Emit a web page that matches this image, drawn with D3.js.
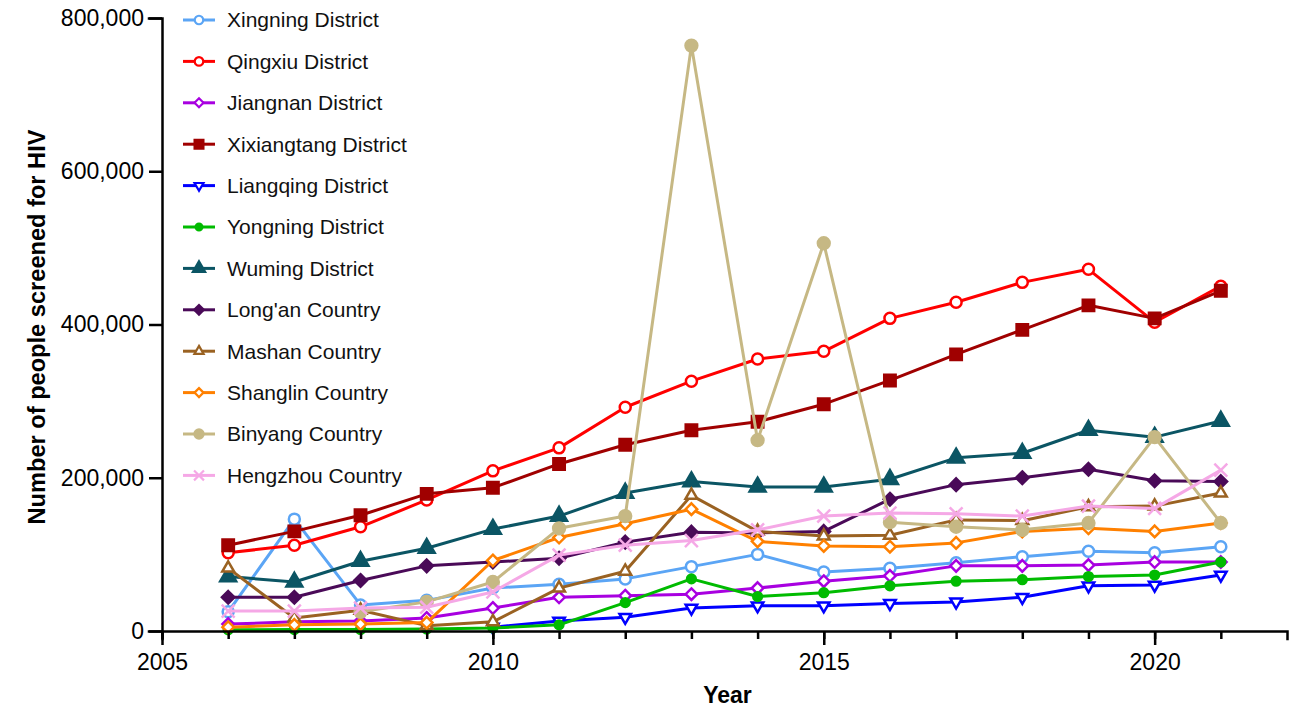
<!DOCTYPE html>
<html>
<head>
<meta charset="utf-8">
<script src="https://cdn.jsdelivr.net/npm/d3@7"></script>
<style>
  body { margin: 0; background: #fff; }
  text { font-family: Arial, "Liberation Sans", sans-serif; }
</style>
</head>
<body>
<div id="chart"></div>
<script>
// years on the x axis
var years = d3.range(2006, 2022);

// number of people screened
var xingning    = [25000, 146000, 34000, 40000, 56000, 61000, 68000, 84000, 100000, 77000, 82000, 89000, 97000, 104000, 102000, 110000];
var qingxiu     = [102000, 112000, 136000, 171000, 209000, 239000, 292000, 326000, 355000, 365000, 408000, 429000, 455000, 472000, 403000, 450000];
var jiangnan    = [9000, 12000, 13000, 17000, 30000, 44000, 46000, 48000, 56000, 65000, 72000, 85000, 85000, 86000, 90000, 90000];
var xixiangtang = [112000, 130000, 151000, 179000, 187000, 218000, 243000, 262000, 273000, 296000, 327000, 361000, 393000, 425000, 408000, 444000];
var liangqing   = [null, null, null, null, 5000, 13000, 18000, 30000, 33000, 33000, 36000, 38000, 44000, 59000, 60000, 73000];
var yongning    = [1500, 1800, 2000, 2500, 4000, 8000, 37000, 68000, 45000, 50000, 59000, 65000, 67000, 71000, 73000, 90000];
var wuming      = [71000, 64000, 91000, 108000, 133000, 150000, 180000, 195000, 188000, 188000, 198000, 226000, 232000, 262000, 253000, 274000];
var longan      = [44000, 44000, 66000, 85000, 90000, 95000, 116000, 129000, 128000, 130000, 172000, 191000, 200000, 211000, 196000, 195000];
var mashan      = [82000, 17000, 27000, 7000, 12000, 56000, 78000, 177000, 130000, 124000, 125000, 145000, 144000, 162000, 163000, 180000];
var shanglin    = [5000, 8000, 9000, 11000, 92000, 122000, 140000, 159000, 117000, 111000, 110000, 115000, 130000, 134000, 130000, 141000];
var binyang     = [null, null, 25000, 38000, 64000, 134000, 150000, 764000, 249000, 506000, 142000, 136000, 132000, 141000, 253000, 141000];
var hengzhou    = [26000, 26000, 30000, 31000, 51000, 99000, 112000, 118000, 132000, 150000, 154000, 153000, 150000, 163000, 160000, 210000];

var seriesNames = ["Xingning District", "Qingxiu District", "Jiangnan District", "Xixiangtang District",
  "Liangqing District", "Yongning District", "Wuming District", "Long'an Country",
  "Mashan Country", "Shanglin Country", "Binyang Country", "Hengzhou Country"];
var seriesValues = [xingning, qingxiu, jiangnan, xixiangtang, liangqing, yongning,
  wuming, longan, mashan, shanglin, binyang, hengzhou];
var yTicks = [0, 200000, 400000, 600000, 800000];
var xLabelTicks = [2005, 2010, 2015, 2020];

// look of each series: colour, symbol, filled or not
var styles = [
  { color: "#5ba5f5", sym: d3.symbolCircle,   size: 95,  fill: false },
  { color: "#ff0000", sym: d3.symbolCircle,   size: 95,  fill: false },
  { color: "#a800e0", sym: d3.symbolDiamond2, size: 85,  fill: false },
  { color: "#a00000", sym: d3.symbolSquare,   size: 130, fill: true },
  { color: "#0000ff", sym: d3.symbolTriangle2, size: 95, fill: false, rot: 180 },
  { color: "#00bb00", sym: d3.symbolCircle,   size: 60,  fill: true },
  { color: "#0b5564", sym: d3.symbolTriangle, size: 110, fill: true },
  { color: "#4a0a58", sym: d3.symbolDiamond2, size: 100, fill: true },
  { color: "#9a6222", sym: d3.symbolTriangle2, size: 100, fill: false },
  { color: "#ff8000", sym: d3.symbolDiamond2, size: 85,  fill: false },
  { color: "#c6b884", sym: d3.symbolCircle,   size: 110, fill: true },
  { color: "#f5a8e6", sym: d3.symbolTimes,    size: 110, fill: false }
];

var W = 1289, H = 709;
var mLeft = 162, mRight = 1287, mTop = 18, mBottom = 631;

var svg = d3.select("#chart").append("svg")
  .attr("width", W).attr("height", H);

var x = d3.scaleLinear().domain([2005, 2022]).range([mLeft, mRight]);
var y = d3.scaleLinear().domain([0, 800000]).range([mBottom, mTop]);

// lines + markers
var line = d3.line()
  .defined(function (d) { return d != null; })
  .x(function (d, i) { return x(years[i]); })
  .y(function (d) { return y(d); });

seriesValues.forEach(function (vals, s) {
  var st = styles[s];
  var g = svg.append("g");
  g.append("path")
    .datum(vals)
    .attr("d", line)
    .attr("fill", "none")
    .attr("stroke", st.color)
    .attr("stroke-width", 3)
    .attr("stroke-linejoin", "round");
  g.selectAll("path.pt")
    .data(vals.map(function (v, i) { return { v: v, yr: years[i] }; })
      .filter(function (d) { return d.v != null; }))
    .enter().append("path")
    .attr("class", "pt")
    .attr("d", d3.symbol().type(st.sym).size(st.size))
    .attr("transform", function (d) {
      return "translate(" + x(d.yr) + "," + y(d.v) + ")" + (st.rot ? " rotate(" + st.rot + ")" : "");
    })
    .attr("fill", st.fill ? st.color : "#fff")
    .attr("stroke", st.color)
    .attr("stroke-width", 2.5);
});

// y axis
var yAxis = svg.append("g")
  .attr("transform", "translate(" + mLeft + ",0)")
  .call(d3.axisLeft(y).tickValues(yTicks).tickFormat(d3.format(",")).tickSize(13).tickPadding(5));
yAxis.selectAll("text").attr("font-size", 23).attr("fill", "#000")
  .attr("font-family", "Arial, 'Liberation Sans', sans-serif");

// x axis: minor year ticks then labelled major ticks
svg.append("g")
  .attr("transform", "translate(0," + mBottom + ")")
  .call(d3.axisBottom(x).tickValues(d3.range(2005, 2022)).tickSize(8).tickFormat(""));
var xMajor = svg.append("g")
  .attr("transform", "translate(0," + mBottom + ")")
  .call(d3.axisBottom(x).tickValues(xLabelTicks).tickSize(14).tickPadding(9).tickFormat(d3.format("d")));
xMajor.select(".domain").remove();
xMajor.selectAll("text").attr("font-size", 23).attr("fill", "#000")
  .attr("font-family", "Arial, 'Liberation Sans', sans-serif");

svg.selectAll(".domain, .tick line").attr("stroke", "#000").attr("stroke-width", 2.5);
svg.selectAll(".domain").attr("stroke-linecap", "square");

// axis titles
svg.append("text")
  .attr("x", (mLeft + mRight) / 2 + 3).attr("y", 703)
  .attr("text-anchor", "middle")
  .attr("font-size", 23).attr("font-weight", "bold")
  .text("Year");

svg.append("text")
  .attr("transform", "translate(45," + 327 + ") rotate(-90)")
  .attr("text-anchor", "middle")
  .attr("font-size", 23).attr("font-weight", "bold")
  .attr("textLength", 395).attr("lengthAdjust", "spacingAndGlyphs")
  .text("Number of people screened for HIV");

// legend
var legend = svg.append("g");
seriesNames.forEach(function (name, s) {
  var st = styles[s];
  var ly = 20 + s * 41.4;
  var g = legend.append("g").attr("transform", "translate(0," + ly + ")");
  g.append("line").attr("x1", 183).attr("x2", 215).attr("y1", 0).attr("y2", 0)
    .attr("stroke", st.color).attr("stroke-width", 3);
  g.append("path")
    .attr("d", d3.symbol().type(st.sym).size(st.size * 0.6))
    .attr("transform", "translate(199,0)" + (st.rot ? " rotate(" + st.rot + ")" : ""))
    .attr("fill", st.fill ? st.color : "#fff")
    .attr("stroke", st.color).attr("stroke-width", 2.2);
  g.append("text").attr("x", 227).attr("y", 0).attr("dy", "0.35em")
    .attr("font-size", 21).attr("fill", "#111")
    .text(name);
});
</script>
</body>
</html>
